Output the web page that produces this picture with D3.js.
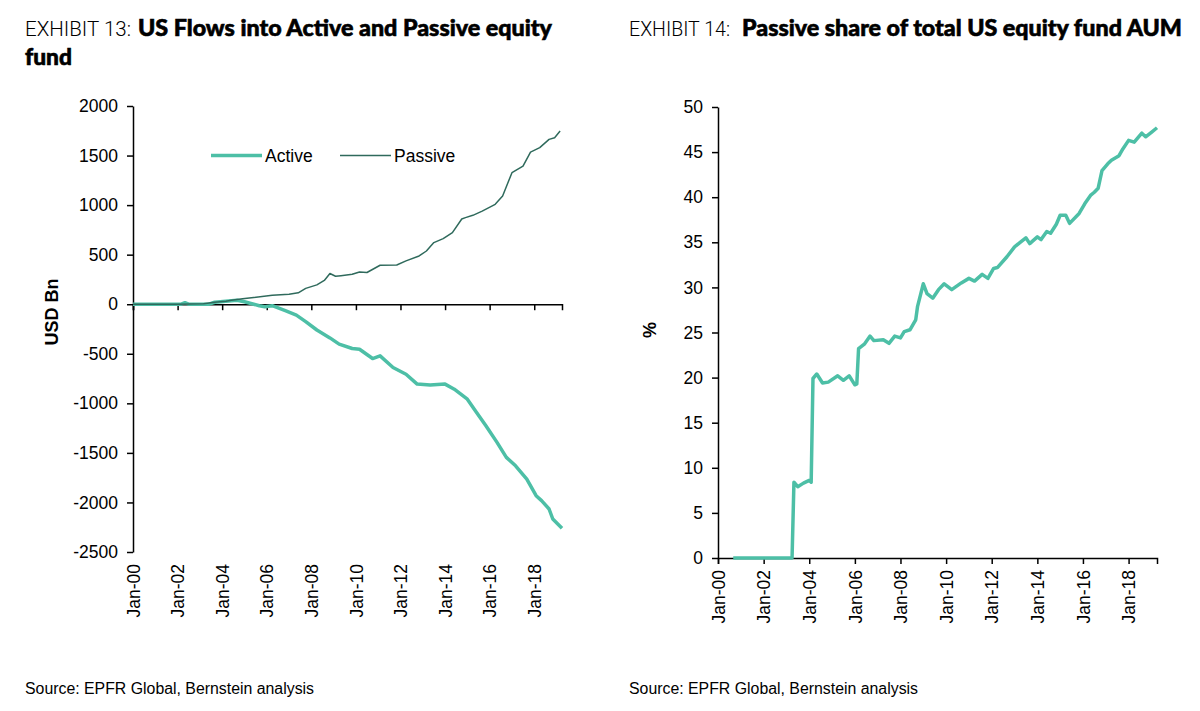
<!DOCTYPE html>
<html>
<head>
<meta charset="utf-8">
<script src="https://cdn.jsdelivr.net/npm/d3@7"></script>
<style>
body { margin: 0; background: #fff; }
svg { display: block; }
.tick text { font-family: "Liberation Sans", Arial, sans-serif; font-size: 17.5px; fill: #000; }
</style>
</head>
<body>
<svg id="chart" width="1200" height="711"></svg>
<script>
// Exhibit 13 - cumulative flows, USD bn
const activeDates = ["2000-01","2002-03","2002-05","2002-07","2003-06","2003-09","2004-03","2004-09","2005-01","2005-06",
  "2005-09","2005-12","2006-04","2006-11","2007-05","2007-10","2008-04","2008-11","2009-04","2009-11",
  "2010-03","2010-10","2011-02","2011-09","2012-04","2012-10","2013-05","2014-01","2014-06","2015-01",
  "2015-06","2015-11","2016-05","2016-10","2017-03","2017-09","2018-02","2018-05","2018-09","2018-11","2019-04"];
const activeFlows = [0,0,15,0,0,20,30,40,25,0,
  -15,-25,-15,-65,-110,-175,-260,-340,-403,-447,
  -454,-548,-521,-638,-706,-806,-816,-806,-857,-958,
  -1092,-1226,-1394,-1545,-1630,-1764,-1932,-1982,-2066,-2167,-2260];

const passiveDates = ["2000-01","2002-01","2003-03","2003-09","2004-03","2004-06","2004-12","2005-06","2006-04","2007-01",
  "2007-06","2007-10","2008-04","2008-08","2008-11","2009-02","2009-05","2009-11","2010-03","2010-07",
  "2011-02","2011-11","2012-04","2012-11","2013-03","2013-07","2013-12","2014-05","2014-10","2014-12",
  "2015-04","2015-09","2016-04","2016-08","2017-01","2017-07","2017-11","2018-04","2018-09","2018-12","2019-03"];
const passiveFlows = [0,0,5,20,30,40,55,68,90,100,
  115,160,195,240,310,282,288,302,326,320,
  393,396,437,487,537,622,662,722,860,874,
  897,940,1008,1092,1327,1394,1535,1580,1663,1680,1747];

// Exhibit 14 - passive share of AUM, %
const shareDates = ["2000-09","2003-04","2003-05","2003-07","2003-10","2004-01","2004-02","2004-03","2004-05","2004-08",
  "2004-11","2005-04","2005-07","2005-10","2006-01","2006-02","2006-03","2006-06","2006-09","2006-11",
  "2007-04","2007-07","2007-10","2008-01","2008-03","2008-06","2008-09","2008-10","2009-01","2009-03",
  "2009-06","2009-09","2009-12","2010-04","2010-09","2011-01","2011-04","2011-08","2011-11","2012-02",
  "2012-04","2012-09","2013-01","2013-04","2013-07","2013-09","2014-01","2014-03","2014-06","2014-08",
  "2014-11","2015-01","2015-04","2015-06","2015-11","2016-02","2016-05","2016-07","2016-09","2016-11",
  "2017-02","2017-04","2017-08","2017-10","2018-01","2018-04","2018-08","2018-10","2019-01","2019-04"];
const shareValues = [0,0,8.4,7.9,8.3,8.6,8.4,19.9,20.4,19.4,
  19.5,20.2,19.7,20.2,19.2,19.3,23.2,23.7,24.6,24.1,
  24.2,23.8,24.6,24.4,25.1,25.3,26.4,27.9,30.4,29.3,
  28.8,29.75,30.4,29.75,30.5,31.0,30.7,31.45,31.0,32.1,
  32.2,33.4,34.5,35.0,35.5,34.85,35.6,35.3,36.2,36.0,
  37.0,38.0,38.0,37.1,38.2,39.3,40.2,40.55,41.0,42.95,
  43.7,44.1,44.6,45.35,46.3,46.1,47.1,46.7,47.2,47.7];

const flowTicks = [2000,1500,1000,500,0,-500,-1000,-1500,-2000,-2500];
const shareTicks = [0,5,10,15,20,25,30,35,40,45,50];
const yearTicks = ["Jan-00","Jan-02","Jan-04","Jan-06","Jan-08","Jan-10","Jan-12","Jan-14","Jan-16","Jan-18"];

const parseMonth = d3.timeParse("%Y-%m");
const parseTick = d3.timeParse("%b-%y");
const tickDates = yearTicks.map(parseTick);
const xDomain = [parseMonth("2000-01"), parseMonth("2019-04")];

const activeColor = "#4dbfa6";
const passiveColor = "#2f6a5c";
const svg = d3.select("#chart");

drawTitles();
drawFlows();
drawShare();

function drawTitles(){
  const titles = [
    {x: 25, y: 36, light: "EXHIBIT 13:", lw: 106, bx: 138, bold: "US Flows into Active and Passive equity", bw: 414},
    {x: 629, y: 36, light: "EXHIBIT 14:", lw: 101, bx: 742, bold: "Passive share of total US equity fund AUM", bw: 440}
  ];
  titles.forEach(t => {
    svg.append("text").attr("x", t.x).attr("y", t.y)
      .attr("font-family", "Roboto, 'Liberation Sans', sans-serif").attr("font-weight", 300)
      .attr("font-size", 21).attr("textLength", t.lw).attr("lengthAdjust", "spacingAndGlyphs")
      .text(t.light);
    svg.append("text").attr("x", t.bx).attr("y", t.y)
      .attr("font-family", "Lato, Roboto, sans-serif").attr("font-weight", 900)
      .attr("font-size", 22).attr("textLength", t.bw).attr("lengthAdjust", "spacingAndGlyphs")
      .attr("stroke", "#000").attr("stroke-width", 0.6)
      .text(t.bold);
    svg.append("text").attr("x", t.x).attr("y", 694)
      .attr("font-family", "'Liberation Sans', Arial, sans-serif").attr("font-size", 16)
      .attr("textLength", 289).attr("lengthAdjust", "spacingAndGlyphs")
      .text("Source: EPFR Global, Bernstein analysis");
  });
  svg.append("text").attr("x", 25).attr("y", 65)
    .attr("font-family", "Lato, Roboto, sans-serif").attr("font-weight", 900)
    .attr("font-size", 22).attr("textLength", 47).attr("lengthAdjust", "spacingAndGlyphs")
    .attr("stroke", "#000").attr("stroke-width", 0.6)
    .text("fund");
}

function xAxes(g, x, zeroY, bottomY){
  g.append("g")
    .attr("transform", "translate(0," + zeroY + ")")
    .call(d3.axisBottom(x).tickValues(tickDates).tickSize(6).tickFormat(""))
    .call(a => a.select(".domain").attr("stroke-width", 1.5))
    .call(a => a.selectAll(".tick line").attr("stroke-width", 1.5));
  g.append("g")
    .attr("transform", "translate(0," + bottomY + ")")
    .call(d3.axisBottom(x).tickValues(tickDates).tickSize(0).tickPadding(0).tickFormat(d3.timeFormat("%b-%y")))
    .call(a => a.select(".domain").remove())
    .selectAll("text")
    .attr("transform", "rotate(-90)")
    .attr("text-anchor", "end")
    .attr("x", -12)
    .attr("y", 0)
    .attr("dy", "0.35em");
}

function drawFlows(){
  const x = d3.scaleTime().domain(xDomain).range([133, 562]);
  const y = d3.scaleLinear().domain([-2500, 2000]).range([552, 106]);
  const g = svg.append("g");

  g.append("g")
    .attr("transform", "translate(133,0)")
    .call(d3.axisLeft(y).tickValues(flowTicks).tickSize(6).tickPadding(9).tickSizeOuter(0).tickFormat(d => String(d)))
    .call(a => a.select(".domain").attr("stroke-width", 1.5))
    .call(a => a.selectAll(".tick line").attr("stroke-width", 1.5));
  xAxes(g, x, y(0), 552);

  const line = d3.line().x(d => x(d[0])).y(d => y(d[1]));
  g.append("path")
    .datum(activeDates.map((d, i) => [parseMonth(d), activeFlows[i]]))
    .attr("fill", "none").attr("stroke", activeColor).attr("stroke-width", 3.5)
    .attr("stroke-linejoin", "round").attr("d", line);
  g.append("path")
    .datum(passiveDates.map((d, i) => [parseMonth(d), passiveFlows[i]]))
    .attr("fill", "none").attr("stroke", passiveColor).attr("stroke-width", 1.5)
    .attr("stroke-linejoin", "round").attr("d", line);

  // legend
  const legend = [
    {name: "Active", x: 211, color: activeColor, w: 3.5},
    {name: "Passive", x: 340, color: passiveColor, w: 1.5}
  ];
  legend.forEach(l => {
    g.append("line").attr("x1", l.x).attr("x2", l.x + 51).attr("y1", y(1500)).attr("y2", y(1500))
      .attr("stroke", l.color).attr("stroke-width", l.w);
    g.append("text").attr("x", l.x + 54).attr("y", y(1500)).attr("dy", "0.35em")
      .attr("font-family", "'Liberation Sans', Arial, sans-serif").attr("font-size", 17.5)
      .text(l.name);
  });

  g.append("text")
    .attr("transform", "translate(52,312) rotate(-90)")
    .attr("text-anchor", "middle").attr("dy", "0.35em")
    .attr("font-family", "'Liberation Sans', Arial, sans-serif").attr("font-weight", "bold").attr("font-size", 18)
    .text("USD Bn");
}

function drawShare(){
  const x = d3.scaleTime().domain(xDomain).range([718, 1157]);
  const y = d3.scaleLinear().domain([0, 50]).range([558, 107]);
  const g = svg.append("g");

  g.append("g")
    .attr("transform", "translate(718,0)")
    .call(d3.axisLeft(y).tickValues(shareTicks).tickSize(6).tickPadding(9).tickSizeOuter(0))
    .call(a => a.select(".domain").attr("stroke-width", 1.5))
    .call(a => a.selectAll(".tick line").attr("stroke-width", 1.5));
  xAxes(g, x, 558, 558);

  const line = d3.line().x(d => x(d[0])).y(d => y(d[1]));
  g.append("path")
    .datum(shareDates.map((d, i) => [parseMonth(d), shareValues[i]]))
    .attr("fill", "none").attr("stroke", activeColor).attr("stroke-width", 3.5)
    .attr("stroke-linejoin", "round").attr("d", line);

  g.append("text")
    .attr("transform", "translate(650,330) rotate(-90)")
    .attr("text-anchor", "middle").attr("dy", "0.35em")
    .attr("font-family", "'Liberation Sans', Arial, sans-serif").attr("font-weight", "bold").attr("font-size", 18)
    .text("%");
}
</script>
</body>
</html>
